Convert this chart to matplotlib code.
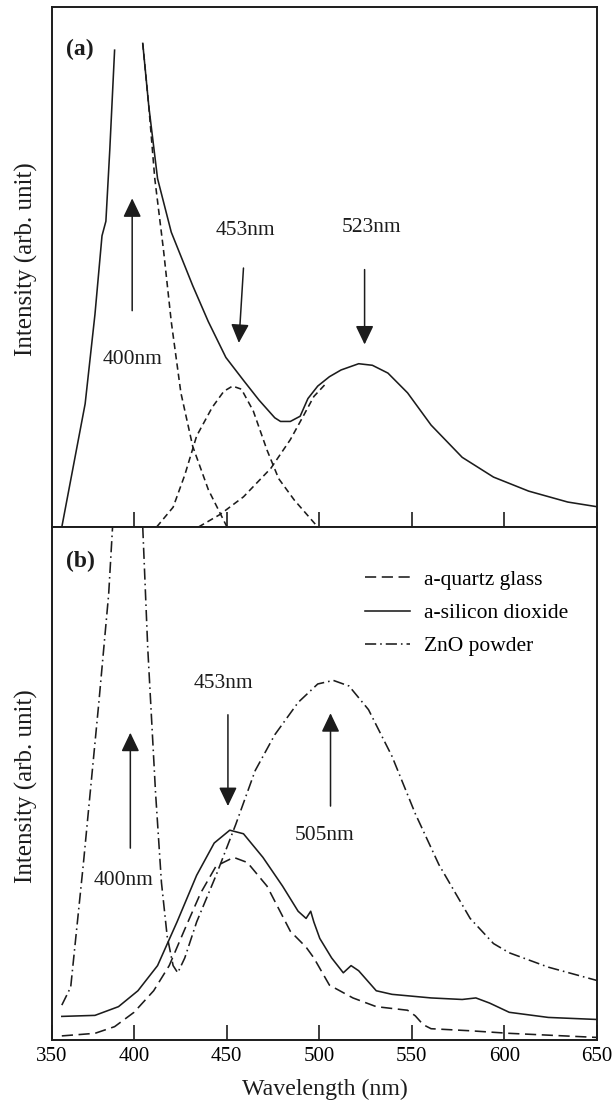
import numpy as np
import matplotlib
matplotlib.use('Agg')
import matplotlib.pyplot as plt

plt.rcParams['font.family'] = ['Liberation Serif', 'DejaVu Serif']

# ---------------- Panel (a) data ----------------
a_total_wl = [361.0, 373.6, 378.9, 382.7, 384.8, 386.9, 389.5, 397.0,
              404.7, 408.0, 412.7, 420.1, 431.7, 440.1, 449.6, 459.1, 467.5,
              476.0, 479.1, 484.4, 489.7, 493.9, 499.2, 505.5, 511.8, 521.3,
              528.7, 537.1, 547.7, 560.4, 577.2, 594.1, 613.1, 634.2, 650.0]
a_total_int = [0.0, 0.237, 0.409, 0.560, 0.588, 0.725, 0.917, np.nan,
               0.930, 0.808, 0.670, 0.567, 0.464, 0.395, 0.326, 0.282, 0.244,
               0.210, 0.203, 0.203, 0.213, 0.247, 0.271, 0.289, 0.302, 0.314,
               0.311, 0.296, 0.258, 0.196, 0.134, 0.096, 0.069, 0.048, 0.039]

a_c400_wl = [404.7, 408.0, 411.2, 415.9, 420.1, 425.3, 431.7, 440.1, 450.2]
a_c400_int = [0.930, 0.808, 0.670, 0.533, 0.395, 0.258, 0.155, 0.072, 0.0]

a_c453_wl = [412.2, 421.1, 427.4, 433.8, 442.2, 448.5, 453.2, 458.0, 464.4,
             471.8, 478.1, 486.5, 499.2]
a_c453_int = [0.0, 0.038, 0.100, 0.175, 0.230, 0.261, 0.271, 0.265, 0.223,
              0.148, 0.093, 0.052, 0.0]

a_c523_wl = [434.8, 446.4, 459.1, 473.9, 484.4, 491.8, 497.1, 503.4]
a_c523_int = [0.0, 0.024, 0.058, 0.113, 0.168, 0.216, 0.251, 0.275]

# ---------------- Panel (b) data ----------------
b_quartz_wl = [361.0, 378.9, 389.5, 400.0, 410.6, 419.0, 427.4, 435.9, 444.3,
               453.8, 461.2, 471.8, 484.4, 492.9, 497.1, 505.5, 518.2, 530.8,
               547.7, 551.9, 556.1, 560.4, 581.5, 602.6, 650.0]
b_quartz_int = [0.008, 0.013, 0.026, 0.054, 0.096, 0.145, 0.216, 0.286, 0.339,
                0.356, 0.346, 0.300, 0.212, 0.181, 0.160, 0.107, 0.082, 0.065,
                0.058, 0.047, 0.030, 0.022, 0.018, 0.013, 0.005]

b_sio2_wl = [361.0, 378.9, 391.6, 402.1, 412.7, 423.2, 433.8, 443.3, 451.7,
             459.1, 469.6, 480.2, 488.6, 492.9, 495.4, 497.1, 500.3, 506.7,
             513.0, 517.2, 521.3, 530.8, 539.3, 560.4, 577.2, 584.6, 592.0,
             602.6, 623.7, 650.0]
b_sio2_int = [0.046, 0.048, 0.065, 0.096, 0.145, 0.230, 0.321, 0.384, 0.409,
              0.402, 0.356, 0.300, 0.251, 0.237, 0.251, 0.230, 0.198, 0.160,
              0.131, 0.145, 0.135, 0.096, 0.089, 0.082, 0.079, 0.082, 0.072,
              0.054, 0.044, 0.040]

b_zno_wl = [361.0, 365.8, 372.6, 381.0, 386.3, 388.4, 396.0,
            404.7, 407.4, 411.6, 414.8, 417.9, 421.1, 423.6, 427.4, 433.8,
            444.3, 454.9, 465.4, 476.0, 488.6, 499.2, 507.6, 516.1, 526.6,
            539.3, 551.9, 564.6, 581.5, 594.1, 602.6, 623.7, 650.0]
b_zno_int = [0.068, 0.103, 0.342, 0.658, 0.869, 1.0, np.nan,
             1.0, 0.764, 0.483, 0.307, 0.202, 0.145, 0.131, 0.160, 0.230,
             0.321, 0.420, 0.525, 0.595, 0.658, 0.694, 0.701, 0.690, 0.644,
             0.553, 0.441, 0.342, 0.237, 0.188, 0.170, 0.142, 0.116]

legend_labels = ['a-quartz glass', 'a-silicon dioxide', 'ZnO powder']
tick_values = [400, 450, 500, 550, 600, 650]
tick_labels = ['350', '400', '450', '500', '550', '600', '650']
x_min, x_max = 355.7, 650.0

col = '#1c1c1c'
lw = 1.15
ann_fs = 15.5

fig = plt.figure(figsize=(6.15, 11.06), dpi=100)
left = 52 / 615
width = 545 / 615
ax1 = fig.add_axes([left, 1 - 527 / 1106, width, 520 / 1106])
ax2 = fig.add_axes([left, 1 - 1040 / 1106, width, 513 / 1106])

for ax in (ax1, ax2):
    ax.set_xlim(x_min, x_max)
    ax.set_ylim(0, 1)
    ax.set_yticks([])
    for s in ax.spines.values():
        s.set_linewidth(1.4)
        s.set_color(col)
    ax.tick_params(axis='x', direction='in', length=10.5, width=1.2,
                   color=col, labelsize=15, pad=5, top=False)
    ax.set_ylabel('Intensity (arb. unit)', fontsize=18, color=col)

ax1.set_xticks(tick_values)
ax1.set_xticklabels([])
ax2.set_xticks([x_min] + tick_values)
ax2.set_xticklabels(tick_labels)
ax2.set_xlabel('Wavelength (nm)', fontsize=17.2, color=col)
ax2.xaxis.set_label_coords(0.5, -0.075)
ax1.yaxis.set_label_coords(-0.026, 0.515)
ax2.yaxis.set_label_coords(-0.026, 0.495)

# ---- Panel (a) curves ----
ax1.plot(a_total_wl, a_total_int, color=col, lw=lw)
for wl, it in ((a_c400_wl, a_c400_int), (a_c453_wl, a_c453_int),
               (a_c523_wl, a_c523_int)):
    ax1.plot(wl, it, color=col, lw=lw, dashes=(4, 2.5))

# ---- Panel (b) curves ----
l1, = ax2.plot(b_quartz_wl, b_quartz_int, color=col, lw=lw, dashes=(7, 3.5))
l2, = ax2.plot(b_sio2_wl, b_sio2_int, color=col, lw=lw)
l3, = ax2.plot(b_zno_wl, b_zno_int, color=col, lw=lw, dashes=(7, 2.5, 1, 2.5))

ax2.legend([l1, l2, l3], legend_labels, loc='upper left',
           bbox_to_anchor=(0.575, 0.917), frameon=False, fontsize=15.5,
           handlelength=2.05, handletextpad=0.65, labelspacing=0.62,
           borderpad=0, borderaxespad=0)

arrow_style = '-|>,head_length=1.15,head_width=0.55'


def arrow(ax, tail, tip):
    ax.annotate('', xy=tip, xytext=tail,
                arrowprops=dict(arrowstyle=arrow_style, mutation_scale=10,
                                lw=1.1, color=col, shrinkA=0, shrinkB=0))


# Panel (a) annotations
arrow(ax1, (399.0, 0.416), (399.0, 0.632))
ax1.text(399.0, 0.323, '400nm', ha='center', va='center', fontsize=ann_fs, color=col)
arrow(ax1, (459.1, 0.498), (456.6, 0.354))
ax1.text(460.1, 0.570, '453nm', ha='center', va='center', fontsize=ann_fs, color=col)
arrow(ax1, (524.5, 0.495), (524.5, 0.351))
ax1.text(528.3, 0.576, '523nm', ha='center', va='center', fontsize=ann_fs, color=col)
ax1.text(0.026, 0.918, '(a)', transform=ax1.transAxes, fontsize=17,
         fontweight='bold', ha='left', va='center', color=col)

# Panel (b) annotations
arrow(ax2, (398.0, 0.374), (398.0, 0.599))
ax2.text(394.1, 0.311, '400nm', ha='center', va='center', fontsize=ann_fs, color=col)
arrow(ax2, (450.7, 0.634), (450.7, 0.456))
ax2.text(448.5, 0.694, '453nm', ha='center', va='center', fontsize=ann_fs, color=col)
arrow(ax2, (506.1, 0.456), (506.1, 0.637))
ax2.text(503.0, 0.398, '505nm', ha='center', va='center', fontsize=ann_fs, color=col)
ax2.text(0.026, 0.932, '(b)', transform=ax2.transAxes, fontsize=17,
         fontweight='bold', ha='left', va='center', color=col)

fig.savefig('out.png', dpi=100)
